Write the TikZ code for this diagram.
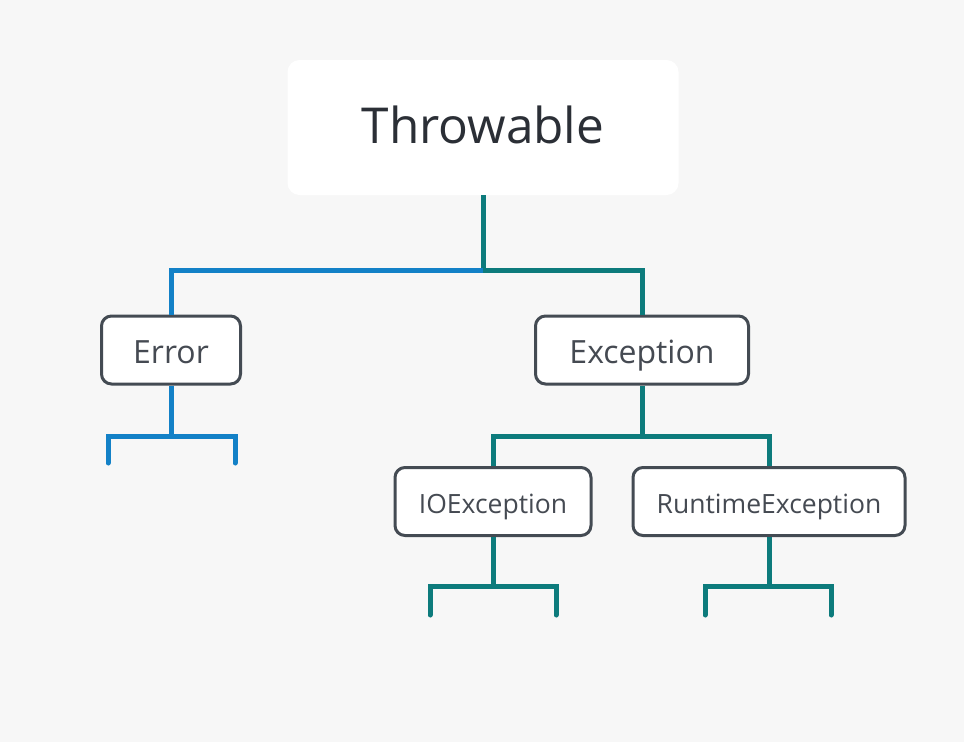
\documentclass[tikz,border=0pt]{standalone}
\usepackage{fontspec}
\setmainfont{Open Sans}
\definecolor{bg}{HTML}{F7F7F7}
\definecolor{blueln}{HTML}{1381C7}
\definecolor{tealln}{HTML}{0D7B7C}
\definecolor{boxline}{HTML}{444B53}
\definecolor{txt}{HTML}{454A52}
\definecolor{txtdark}{HTML}{2B2F36}
\begin{document}
\begin{tikzpicture}[x=1pt,y=-1pt,
  root/.style={fill=white,rounded corners=12pt,minimum width=391pt,minimum height=135pt,inner sep=0pt,text=txtdark,font=\fontsize{49.5}{55}\selectfont,text height=35pt,text depth=4pt},
  cls/.style={draw=boxline,line width=3pt,fill=white,rounded corners=10pt,minimum height=68pt,inner sep=0pt,text=txt},
  big/.style={font=\fontsize{32}{36}\selectfont,text height=26pt,text depth=0pt},
  small/.style={font=\fontsize{26.5}{30}\selectfont,text height=23pt,text depth=0pt},
  bl/.style={draw=blueln,line width=5pt,line cap=round},
  tl/.style={draw=tealln,line width=5pt,line cap=round}]
\fill[bg] (0,0) rectangle (964,742);
\useasboundingbox (0,0) rectangle (964,742);
\node[root] (thr) at (483,127.5) {Throwable};
\node[cls,big,minimum width=139pt] (err) at (171,350) {Error};
\node[cls,big,minimum width=213pt] (exc) at (642,350) {Exception};
\node[cls,small,minimum width=196pt] (io) at (493,501.5) {IOException};
\node[cls,small,minimum width=272pt] (rt) at (769,501.5) {RuntimeException};
% junctions
\coordinate (j0) at (483,270);
\coordinate (j1) at (171,436);
\coordinate (j2) at (642,436);
\coordinate (j3) at (493,586);
\coordinate (j4) at (769,586);
% leaves
\coordinate (e1) at (108,463);
\coordinate (e2) at (235,463);
\coordinate (i1) at (430,615);
\coordinate (i2) at (556,615);
\coordinate (r1) at (705,615);
\coordinate (r2) at (831,615);
% top level
\draw[tl,line cap=butt] (thr.south) -- (j0);
\draw[bl,line cap=butt] (j0) -| (err.north);
\draw[tl,line cap=butt] (j0) -| (exc.north);
% Error
\draw[bl,line cap=butt] (err.south) -- (j1);
\draw[bl,line join=miter] (j1) -| (e1);
\draw[bl,line join=miter] (j1) -| (e2);
% Exception
\draw[tl,line cap=butt] (exc.south) -- (j2);
\draw[tl,line cap=butt] (j2) -| (io.north);
\draw[tl,line cap=butt] (j2) -| (rt.north);
% IOException
\draw[tl,line cap=butt] (io.south) -- (j3);
\draw[tl] (j3) -| (i1);
\draw[tl] (j3) -| (i2);
% RuntimeException
\draw[tl,line cap=butt] (rt.south) -- (j4);
\draw[tl] (j4) -| (r1);
\draw[tl] (j4) -| (r2);
\end{tikzpicture}
\end{document}
